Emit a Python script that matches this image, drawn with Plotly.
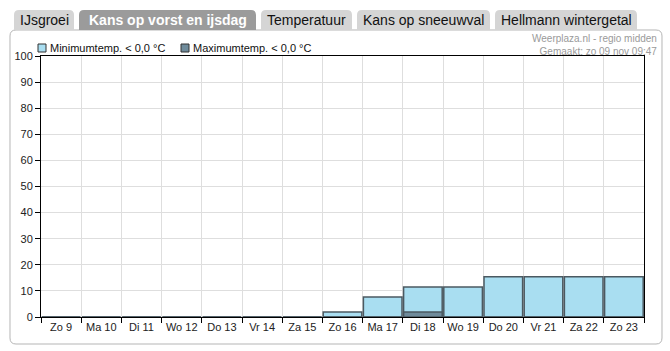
import plotly.graph_objects as go

days = ["Zo 9", "Ma 10", "Di 11", "Wo 12", "Do 13", "Vr 14", "Za 15", "Zo 16",
        "Ma 17", "Di 18", "Wo 19", "Do 20", "Vr 21", "Za 22", "Zo 23"]
min_temp = [0, 0, 0, 0, 0, 0, 0, 1.9, 7.7, 11.5, 11.5, 15.4, 15.4, 15.4, 15.4]
max_temp = [0, 0, 0, 0, 0, 0, 0, 0, 0, 1.9, 0, 0, 0, 0, 0]
series_names = ["Minimumtemp. < 0,0 °C", "Maximumtemp. < 0,0 °C"]
series_colors = ["#a9def1", "#6f8b9b"]
tabs = ["IJsgroei", "Kans op vorst en ijsdag", "Temperatuur", "Kans op sneeuwval", "Hellmann wintergetal"]
active_tab = 1
credit = ["Weerplaza.nl - regio midden", "Gemaakt: zo 09 nov 09:47"]

W, H = 670, 351
L, R, T, B = 41, 26, 56, 34
PW, PH = W - L - R, H - T - B

def px(x):
    return (x - L) / PW

def py(y):
    return (H - B - y) / PH

FONT = "Liberation Sans, Arial, sans-serif"
EDGE = "#4b5961"

fig = go.Figure()
fig.add_trace(go.Bar(x=days, y=min_temp, name=series_names[0],
                     marker=dict(color=series_colors[0], line=dict(color=EDGE, width=1.5)),
                     showlegend=False))
fig.add_trace(go.Bar(x=days, y=max_temp, name=series_names[1],
                     marker=dict(color=series_colors[1], line=dict(color=EDGE, width=1.5)),
                     showlegend=False))

shapes = []
annotations = []

def rrect_path(x0, y0, x1, y1, r, top_only=False):
    def P(x, y):
        return f"{px(x):.5f},{py(y):.5f}"
    if top_only:
        return (f"M {P(x0, y1)} L {P(x0, y0 + r)} Q {P(x0, y0)} {P(x0 + r, y0)} "
                f"L {P(x1 - r, y0)} Q {P(x1, y0)} {P(x1, y0 + r)} L {P(x1, y1)} Z")
    return (f"M {P(x0, y0 + r)} Q {P(x0, y0)} {P(x0 + r, y0)} L {P(x1 - r, y0)} "
            f"Q {P(x1, y0)} {P(x1, y0 + r)} L {P(x1, y1 - r)} Q {P(x1, y1)} {P(x1 - r, y1)} "
            f"L {P(x0 + r, y1)} Q {P(x0, y1)} {P(x0, y1 - r)} Z")

# panel
shapes.append(dict(type="path", xref="paper", yref="paper", layer="below",
                   path=rrect_path(10, 30, 662, 344, 6),
                   fillcolor="white", line=dict(color="#b5b5b5", width=1)))

# tabs
tab_x = [(14, 74), (79, 256), (261, 352), (357, 490), (495, 637)]
for i, (name, (x0, x1)) in enumerate(zip(tabs, tab_x)):
    active = i == active_tab
    shapes.append(dict(type="path", xref="paper", yref="paper",
                       path=rrect_path(x0, 10, x1, 30, 5, top_only=True),
                       fillcolor="#9b9b9b" if active else "#d5d5d5",
                       line=dict(width=0)))
    annotations.append(dict(xref="paper", yref="paper", x=px((x0 + x1) / 2), y=py(20.5),
                            text=f"<b>{name}</b>" if active else name, showarrow=False,
                            xanchor="center", yanchor="middle",
                            font=dict(family=FONT, size=14, color="white" if active else "#111")))

# custom legend
leg_x = [38, 181]
for name, col, lx in zip(series_names, series_colors, leg_x):
    shapes.append(dict(type="rect", xref="paper", yref="paper",
                       x0=px(lx), x1=px(lx + 8), y0=py(52), y1=py(44),
                       fillcolor=col, line=dict(color="#333", width=1)))
    annotations.append(dict(xref="paper", yref="paper", x=px(lx + 10), y=py(48),
                            text=name, showarrow=False, xanchor="left", yanchor="middle",
                            font=dict(family=FONT, size=11, color="#111")))

# credit
annotations.append(dict(xref="paper", yref="paper", x=px(659), y=py(44.5),
                        text="<br>".join(credit), showarrow=False, xanchor="right",
                        yanchor="middle", align="right",
                        font=dict(family=FONT, size=10, color="#9a9a9a")))

fig.update_layout(
    width=W, height=H,
    margin=dict(l=L, r=R, t=T, b=B, pad=0),
    paper_bgcolor="white", plot_bgcolor="white",
    barmode="overlay", bargap=0.04,
    shapes=shapes, annotations=annotations,
    font=dict(family=FONT, size=11, color="#222"),
    xaxis=dict(type="category", tickson="boundaries", ticks="outside", ticklen=5,
               tickangle=0, automargin=False,
               tickcolor="#000", showline=True, linecolor="#000", linewidth=1, mirror=True,
               showgrid=True, gridcolor="#dedede", gridwidth=1,
               tickfont=dict(family=FONT, size=11, color="#222"), fixedrange=True),
    yaxis=dict(range=[0, 100], dtick=10, ticks="outside", ticklen=5, tickcolor="#000",
               automargin=False,
               showline=True, linecolor="#000", linewidth=1, mirror=True,
               showgrid=True, gridcolor="#dedede", gridwidth=1, zeroline=False,
               tickfont=dict(family=FONT, size=11, color="#222"), fixedrange=True),
)

fig.write_html("out.html")
